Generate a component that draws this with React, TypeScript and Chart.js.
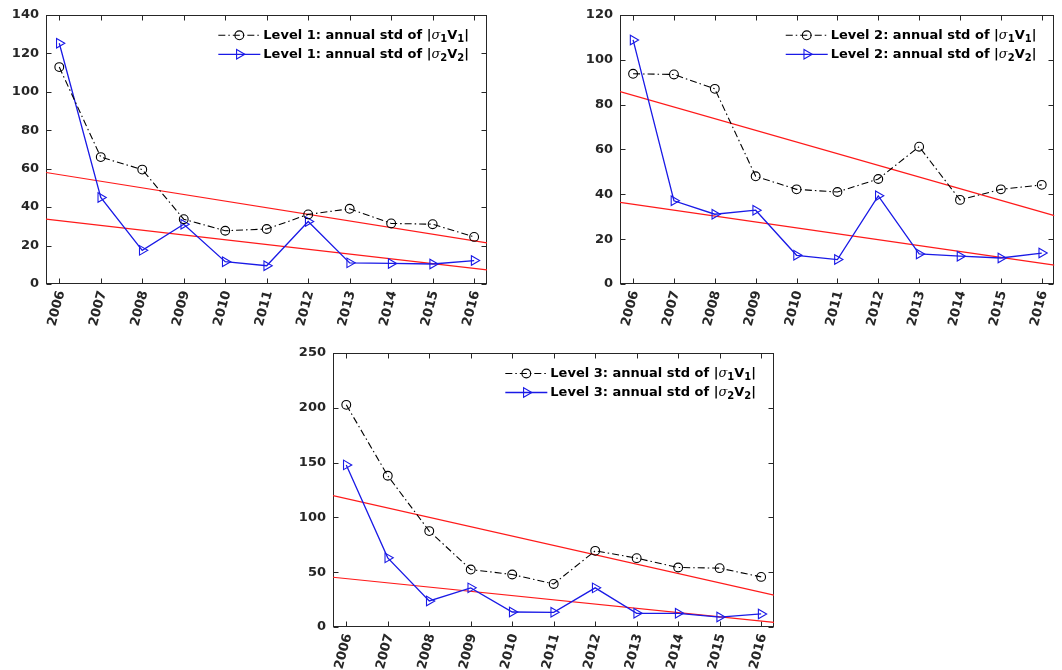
import React, { useEffect, useRef } from "react";
import { Chart, registerables } from "chart.js";

Chart.register(...registerables);

// ---------------- data ----------------
const YEARS = [2006, 2007, 2008, 2009, 2010, 2011, 2012, 2013, 2014, 2015, 2016];
const X_MIN = 2005.68;
const X_MAX = 2016.31;
const TREND_X = [X_MIN, X_MAX];

const L1_SIGMA1 = [112.8, 66.0, 59.5, 33.7, 27.7, 28.6, 36.2, 39.1, 31.5, 31.1, 24.5];
const L1_SIGMA2 = [125.2, 45.0, 17.5, 31.1, 11.6, 9.5, 32.5, 11.0, 10.7, 10.4, 12.2];
const L1_TREND_UP = [58.0, 21.4];
const L1_TREND_LOW = [33.7, 7.3];
const L1_YTICKS = [0, 20, 40, 60, 80, 100, 120, 140];

const L2_SIGMA1 = [93.7, 93.4, 87.0, 48.0, 42.2, 41.0, 46.8, 61.2, 37.5, 42.2, 44.2];
const L2_SIGMA2 = [108.8, 37.1, 31.1, 32.9, 12.8, 10.9, 39.3, 13.4, 12.4, 11.6, 13.8];
const L2_TREND_UP = [85.8, 30.5];
const L2_TREND_LOW = [36.4, 8.4];
const L2_YTICKS = [0, 20, 40, 60, 80, 100, 120];

const L3_SIGMA1 = [202.7, 138.0, 87.5, 52.4, 47.9, 39.3, 69.5, 62.8, 54.3, 53.7, 45.7];
const L3_SIGMA2 = [147.9, 63.1, 23.8, 35.7, 13.7, 13.4, 35.7, 12.5, 12.5, 9.1, 11.9];
const L3_TREND_UP = [119.8, 29.0];
const L3_TREND_LOW = [45.4, 4.3];
const L3_YTICKS = [0, 50, 100, 150, 200, 250];

const LABEL_S1 = (n: number) => `Level ${n}: annual std of |σ₁V₁|`;
const LABEL_S2 = (n: number) => `Level ${n}: annual std of |σ₂V₂|`;

// ---------------- styles ----------------
const FONT = '"DejaVu Sans", "Liberation Sans", sans-serif';
const AXIS_COLOR = "#262626";
const BLACK = "#000000";
const BLUE = "#1a1ae6";
const RED = "#ff1a1a";
const TICK_LEN = 5;

// ---------------- plugins ----------------
const axesBoxPlugin = {
  id: "axesBox",
  beforeDatasetsDraw(chart: any) {
    const { ctx, chartArea: a, scales } = chart;
    ctx.save();
    ctx.strokeStyle = AXIS_COLOR;
    ctx.lineWidth = 1;
    ctx.setLineDash([]);
    const L = Math.round(a.left) + 0.5;
    const R = Math.round(a.right) - 0.5;
    const T = Math.round(a.top) + 0.5;
    const B = Math.round(a.bottom) - 0.5;
    ctx.strokeRect(L, T, R - L, B - T);
    ctx.beginPath();
    for (const t of scales.x.ticks) {
      const px = Math.round(scales.x.getPixelForValue(t.value)) + 0.5;
      ctx.moveTo(px, B);
      ctx.lineTo(px, B - TICK_LEN);
      ctx.moveTo(px, T);
      ctx.lineTo(px, T + TICK_LEN);
    }
    for (const t of scales.y.ticks) {
      const py = Math.round(scales.y.getPixelForValue(t.value)) + 0.5;
      ctx.moveTo(L, py);
      ctx.lineTo(L + TICK_LEN, py);
      ctx.moveTo(R, py);
      ctx.lineTo(R - TICK_LEN, py);
    }
    ctx.stroke();
    ctx.restore();
  },
};

type Seg = { text: string; font: string; dy: number };

function segments(label: string, size: number): Seg[] {
  const segs: Seg[] = [];
  const normal = `bold ${size}px ${FONT}`;
  const sub = `bold ${Math.round(size * 0.75)}px ${FONT}`;
  const greek = `italic ${size}px "DejaVu Serif", serif`;
  let cur = "";
  const flush = () => {
    if (cur) segs.push({ text: cur, font: normal, dy: 0 });
    cur = "";
  };
  for (const ch of label) {
    if (ch === "₁" || ch === "₂") {
      flush();
      segs.push({ text: ch === "₁" ? "1" : "2", font: sub, dy: size * 0.32 });
    } else if (ch === "σ") {
      flush();
      segs.push({ text: "σ", font: greek, dy: 0 });
    } else {
      cur += ch;
    }
  }
  flush();
  return segs;
}

function measure(ctx: CanvasRenderingContext2D, segs: Seg[]) {
  let w = 0;
  for (const s of segs) {
    ctx.font = s.font;
    w += ctx.measureText(s.text).width;
  }
  return w;
}

function drawMarker(ctx: CanvasRenderingContext2D, ds: any, x: number, y: number) {
  ctx.save();
  ctx.setLineDash([]);
  ctx.strokeStyle = ds.pointBorderColor || ds.borderColor;
  ctx.lineWidth = ds.pointBorderWidth || 1;
  ctx.beginPath();
  const r = ds.pointRadius;
  if (ds.pointStyle === "triangle") {
    const rot = ((ds.pointRotation || 0) * Math.PI) / 180;
    for (let k = 0; k < 3; k++) {
      const ang = rot + (k * 2 * Math.PI) / 3;
      const px = x + Math.sin(ang) * r;
      const py = y - Math.cos(ang) * r;
      if (k === 0) ctx.moveTo(px, py);
      else ctx.lineTo(px, py);
    }
    ctx.closePath();
  } else {
    ctx.arc(x, y, r, 0, Math.PI * 2);
  }
  ctx.stroke();
  ctx.restore();
}

const matlabLegendPlugin = {
  id: "matlabLegend",
  afterDatasetsDraw(chart: any, _args: any, opts: any) {
    const { ctx, chartArea: a } = chart;
    const size = opts.fontSize || 12;
    const items = chart.data.datasets.filter((d: any) => d.inLegend);
    ctx.save();
    const segList = items.map((d: any) => segments(d.label, size));
    const widths = segList.map((s: Seg[]) => measure(ctx, s));
    const maxW = Math.max(...widths);
    const textX = a.right - opts.rightGap - maxW;
    items.forEach((ds: any, i: number) => {
      const y = a.top + opts.rowTop + i * opts.rowGap;
      const x1 = textX - opts.gap;
      const x0 = x1 - opts.lineLen;
      ctx.save();
      ctx.strokeStyle = ds.borderColor;
      ctx.lineWidth = ds.borderWidth;
      ctx.setLineDash(ds.borderDash || []);
      ctx.beginPath();
      ctx.moveTo(x0, y);
      ctx.lineTo(x1, y);
      ctx.stroke();
      ctx.restore();
      drawMarker(ctx, ds, (x0 + x1) / 2, y);
      let cx = textX;
      ctx.fillStyle = BLACK;
      ctx.textBaseline = "middle";
      ctx.textAlign = "left";
      for (const s of segList[i]) {
        ctx.font = s.font;
        ctx.fillText(s.text, cx, y + s.dy);
        cx += ctx.measureText(s.text).width;
      }
    });
    ctx.restore();
  },
};

// ---------------- panel ----------------
type PanelProps = {
  left: number;
  top: number;
  width: number;
  height: number;
  area: { left: number; top: number; right: number; bottom: number };
  level: number;
  s1: number[];
  s2: number[];
  trendUp: number[];
  trendLow: number[];
  yTicks: number[];
};

function Panel(p: PanelProps) {
  const ref = useRef<HTMLCanvasElement | null>(null);
  useEffect(() => {
    if (!ref.current) return;
    const yMax = p.yTicks[p.yTicks.length - 1];
    const chart = new Chart(ref.current, {
      type: "line",
      data: {
        datasets: [
          {
            label: LABEL_S1(p.level),
            inLegend: true,
            data: YEARS.map((x, i) => ({ x, y: p.s1[i] })),
            borderColor: BLACK,
            borderWidth: 1.1,
            borderDash: [7, 3, 1.5, 3],
            pointStyle: "circle",
            pointRadius: 4.4,
            pointBorderColor: BLACK,
            pointBackgroundColor: "rgba(0,0,0,0)",
            pointBorderWidth: 1.1,
            fill: false,
            tension: 0,
          } as any,
          {
            label: LABEL_S2(p.level),
            inLegend: true,
            data: YEARS.map((x, i) => ({ x, y: p.s2[i] })),
            borderColor: BLUE,
            borderWidth: 1.3,
            pointStyle: "triangle",
            pointRotation: 90,
            pointRadius: 5.5,
            pointBorderColor: BLUE,
            pointBackgroundColor: "rgba(0,0,0,0)",
            pointBorderWidth: 1.1,
            fill: false,
            tension: 0,
          } as any,
          {
            label: "trend 1",
            data: TREND_X.map((x, i) => ({ x, y: p.trendUp[i] })),
            borderColor: RED,
            borderWidth: 1.2,
            pointRadius: 0,
            fill: false,
          } as any,
          {
            label: "trend 2",
            data: TREND_X.map((x, i) => ({ x, y: p.trendLow[i] })),
            borderColor: RED,
            borderWidth: 1.2,
            pointRadius: 0,
            fill: false,
          } as any,
        ],
      },
      options: {
        animation: false,
        responsive: false,
        maintainAspectRatio: false,
        events: [],
        layout: {
          padding: {
            left: 0,
            top: p.area.top,
            right: p.width - p.area.right,
            bottom: 0,
          },
        },
        plugins: {
          legend: { display: false },
          tooltip: { enabled: false },
          title: { display: false },
          matlabLegend: { fontSize: 13, rightGap: 18, rowTop: 20.5, rowGap: 19, lineLen: 42, gap: 3 },
        } as any,
        scales: {
          x: {
            type: "linear",
            min: X_MIN,
            max: X_MAX,
            grid: { display: false, drawTicks: false },
            border: { display: false },
            afterBuildTicks: (s: any) => {
              s.ticks = YEARS.map((v) => ({ value: v }));
            },
            afterFit: (s: any) => {
              s.height = p.height - p.area.bottom;
            },
            ticks: {
              autoSkip: false,
              minRotation: 75,
              maxRotation: 75,
              padding: 5,
              labelOffset: 2,
              color: AXIS_COLOR,
              font: { family: FONT, size: 13, weight: "bold" },
              callback: (v: any) => String(v),
            },
          },
          y: {
            type: "linear",
            min: 0,
            max: yMax,
            grid: { display: false, drawTicks: false },
            border: { display: false },
            afterBuildTicks: (s: any) => {
              s.ticks = p.yTicks.map((v) => ({ value: v }));
            },
            afterFit: (s: any) => {
              s.width = p.area.left;
            },
            ticks: {
              padding: 7,
              color: AXIS_COLOR,
              font: { family: FONT, size: 13, weight: "bold" },
              callback: (v: any) => String(v),
            },
          },
        },
      } as any,
      plugins: [axesBoxPlugin, matlabLegendPlugin],
    });
    return () => chart.destroy();
  }, []);
  return (
    <canvas
      ref={ref}
      width={p.width}
      height={p.height}
      style={{ position: "absolute", left: p.left, top: p.top, width: p.width, height: p.height }}
    />
  );
}

export default function App() {
  return (
    <div style={{ position: "absolute", left: 0, top: 0, width: 1062, height: 670, background: "#fff", overflow: "hidden" }}>
      <Panel
        left={0}
        top={0}
        width={531}
        height={335}
        area={{ left: 46, top: 10, right: 487, bottom: 284 }}
        level={1}
        s1={L1_SIGMA1}
        s2={L1_SIGMA2}
        trendUp={L1_TREND_UP}
        trendLow={L1_TREND_LOW}
        yTicks={L1_YTICKS}
      />
      <Panel
        left={531}
        top={0}
        width={531}
        height={335}
        area={{ left: 89, top: 10, right: 531, bottom: 284 }}
        level={2}
        s1={L2_SIGMA1}
        s2={L2_SIGMA2}
        trendUp={L2_TREND_UP}
        trendLow={L2_TREND_LOW}
        yTicks={L2_YTICKS}
      />
      <Panel
        left={260}
        top={335}
        width={531}
        height={335}
        area={{ left: 73, top: 18, right: 514, bottom: 292 }}
        level={3}
        s1={L3_SIGMA1}
        s2={L3_SIGMA2}
        trendUp={L3_TREND_UP}
        trendLow={L3_TREND_LOW}
        yTicks={L3_YTICKS}
      />
    </div>
  );
}
